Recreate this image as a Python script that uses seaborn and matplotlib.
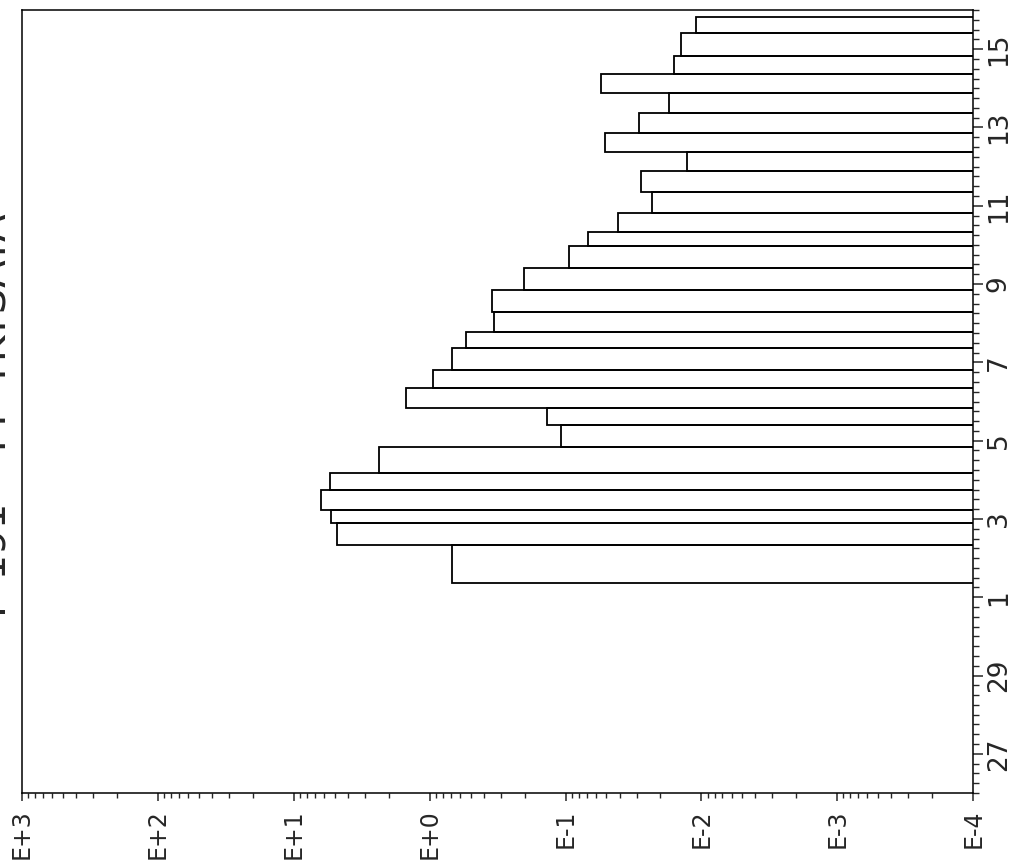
import numpy as np
import pandas as pd
import seaborn as sns
import matplotlib.pyplot as plt
from matplotlib.ticker import FixedLocator, NullFormatter

# sampling periods, in days counted from 26 Sept 00:00
edges = [5.36, 6.34, 6.90, 7.23, 7.74, 8.17, 8.84, 9.40, 9.83, 10.35,
         10.81, 11.37, 11.78, 12.29, 12.85, 13.41, 13.97, 14.33, 14.82,
         15.35, 15.89, 16.37, 16.86, 17.37, 17.88, 18.37, 18.83, 19.41, 19.82]
# measured value for each period
values = [0.69, 4.8, 5.3, 6.3, 5.4, 2.35, 0.108, 0.137, 1.49, 0.95,
          0.68, 0.54, 0.336, 0.347, 0.202, 0.094, 0.068, 0.041, 0.023,
          0.028, 0.0128, 0.051, 0.029, 0.0174, 0.055, 0.016, 0.0142, 0.011]

day_pos = [1, 3, 5, 7, 9, 11, 13, 15, 17, 19]
day_labels = ["27", "29", "1", "3", "5", "7", "9", "11", "13", "15"]
decades = [1e3, 1e2, 1e1, 1e0, 1e-1, 1e-2, 1e-3, 1e-4]
decade_labels = ["E+3", "E+2", "E+1", "E+0", "E-1", "E-2", "E-3", "E-4"]
title = "I  191 - 44  TKTSATA"

sns.set_style("ticks")
plt.rcParams["font.family"] = ["DejaVu Sans"]

mids = [(a + b) / 2 for a, b in zip(edges[:-1], edges[1:])]
df = pd.DataFrame({"t": mids, "value": values})

fig = plt.figure(figsize=(10.19, 8.63), dpi=100)
ax = fig.add_axes([0.0216, 0.0811, 0.9334, 0.9073])
ax.set_xscale("log")
sns.histplot(data=df, y="t", weights="value", bins=edges, fill=False,
             color="black", linewidth=1.3, ax=ax)

ax.set_xlim(1e3, 1e-4)
ax.set_ylim(0, 20)
ax.set_xlabel("")
ax.set_ylabel("")

for s in ax.spines.values():
    s.set_visible(True)
    s.set_linewidth(1.1)
    s.set_color("black")

# value axis
ax.xaxis.set_major_locator(FixedLocator(decades))
ax.set_xticklabels(decade_labels, rotation=90, fontsize=17)
minor = [m * d for d in decades[1:] for m in range(2, 10)]
ax.xaxis.set_minor_locator(FixedLocator(minor))
ax.xaxis.set_minor_formatter(NullFormatter())
ax.tick_params(axis="x", which="major", length=6, width=1.1, direction="out", pad=6)
ax.tick_params(axis="x", which="minor", length=3.5, width=1.0, direction="out")

# time axis on the right
ax.yaxis.tick_right()
ax.set_yticks(day_pos, day_labels)
ax.set_yticks(np.arange(0, 20.01, 0.25), minor=True)
for lab in ax.get_yticklabels():
    lab.set_rotation(90)
    lab.set_fontsize(19)
    lab.set_va("center")
ax.tick_params(axis="y", which="major", length=7, width=1.1, direction="out", pad=2)
ax.tick_params(axis="y", which="minor", length=4, width=1.0, direction="out")

fig.text(0.015, 0.519, title, rotation=90, ha="right", va="center", fontsize=29)

fig.savefig("out.png", dpi=100)
